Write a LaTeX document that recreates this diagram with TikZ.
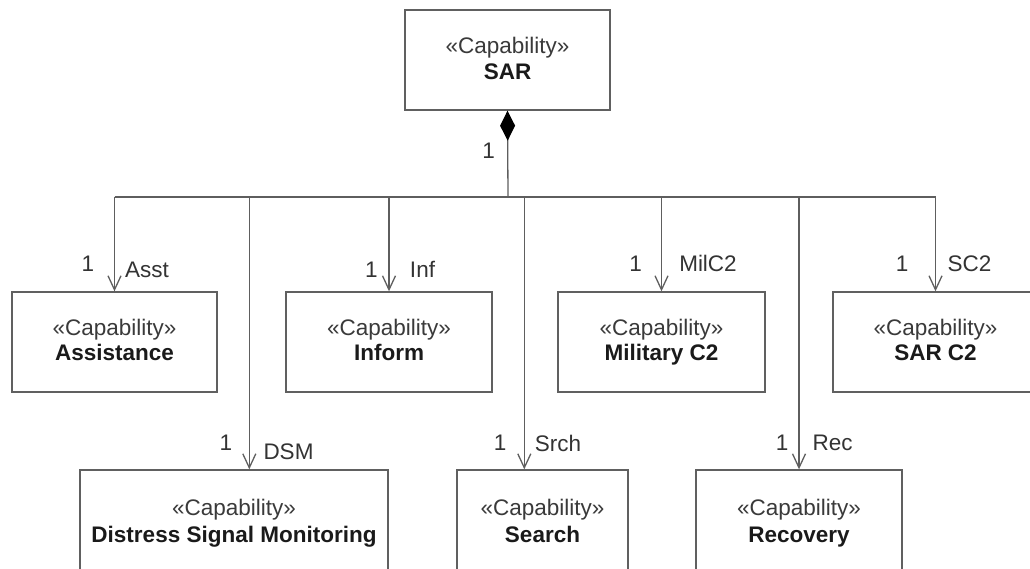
\documentclass[tikz,border=0pt]{standalone}
\usepackage{fontspec}
\setmainfont{Liberation Sans}
\usetikzlibrary{arrows.meta}
\definecolor{linegray}{HTML}{5E5E5E}
\definecolor{boxgray}{HTML}{606060}
\definecolor{stereo}{HTML}{3A3A3A}
\definecolor{namec}{HTML}{1A1A1A}
\definecolor{labc}{HTML}{333333}
\begin{document}
\begin{tikzpicture}[x=1pt,y=-1pt,
  capbox/.style={draw=boxgray, line width=1.4pt, rectangle, inner sep=0pt, minimum height=100pt},
  stxt/.style={anchor=base, inner sep=0pt, text=stereo, font=\fontsize{22.5}{26}\selectfont},
  ntxt/.style={anchor=base, inner sep=0pt, text=namec, font=\fontsize{22.5}{26}\selectfont\bfseries},
  lab/.style={anchor=base, inner sep=0pt, text=labc, font=\fontsize{22.5}{26}\selectfont},
  conn/.style={draw=linegray, line width=1.3pt},
  nav/.style={conn, -{Straight Barb[length=14pt,width=13pt]}}
]
\clip (0,0) rectangle (1030,569);
\fill[white] (0,0) rectangle (1030,569);

% boxes
\node[capbox, minimum width=205pt] (sar)  at (507.5,60) {};
\node[capbox, minimum width=205pt] (asst) at (114.5,342) {};
\node[capbox, minimum width=206pt] (inf)  at (389,342) {};
\node[capbox, minimum width=207pt] (mil)  at (661.5,342) {};
\node[capbox, minimum width=205pt] (sc2)  at (935.5,342) {};
\node[capbox, minimum width=308pt] (dsm)  at (234,520) {};
\node[capbox, minimum width=171pt] (srch) at (542.5,520) {};
\node[capbox, minimum width=206pt] (rec)  at (799,520) {};

% box texts
\node[stxt] (sar-s)  at (507.5,54) {«Capability»};
\node[ntxt] (sar-n)  at (507.5,80) {SAR};
\node[stxt] (asst-s) at (114.5,335) {«Capability»};
\node[ntxt] (asst-n) at (114.5,360) {Assistance};
\node[stxt] (inf-s)  at (389,335) {«Capability»};
\node[ntxt] (inf-n)  at (389,360) {Inform};
\node[stxt] (mil-s)  at (661.5,335) {«Capability»};
\node[ntxt] (mil-n)  at (661.5,360) {Military C2};
\node[stxt] (sc2-s)  at (935.5,335) {«Capability»};
\node[ntxt] (sc2-n)  at (935.5,360) {SAR C2};
\node[stxt] (dsm-s)  at (234,515) {«Capability»};
\node[ntxt] (dsm-n)  at (234,542) {Distress Signal Monitoring};
\node[stxt] (srch-s) at (542.5,515) {«Capability»};
\node[ntxt] (srch-n) at (542.5,542) {Search};
\node[stxt] (rec-s)  at (799,515) {«Capability»};
\node[ntxt] (rec-n)  at (799,542) {Recovery};

% connector geometry
\coordinate (hub) at (508,197);
\path (dsm.north west) ++(170,0) coordinate (dsm-in);
\path (srch.north west) ++(68,0) coordinate (srch-in);

% composition
\draw[conn, {Diamond[length=30pt,width=15pt,color=black]}-] (sar.south) -- (hub);
% bus
\draw[conn] (hub -| asst.north) -- (hub -| sc2.north);
% branches
\draw[nav] (hub -| asst.north) -- (asst.north);
\draw[nav] (hub -| dsm-in) -- (dsm-in);
\draw[nav] (hub -| inf.north) -- (inf.north);
\draw[nav] (hub -| srch-in) -- (srch-in);
\draw[nav] (hub -| mil.north) -- (mil.north);
\draw[nav] (hub -| rec.north) -- (rec.north);
\draw[nav] (hub -| sc2.north) -- (sc2.north);

% multiplicities and roles
\node[lab] (m-sar)  at (488.5,159) {1};
\node[lab] (m-asst) at (88,272) {1};
\node[lab] (r-asst) at (147,277) {Asst};
\node[lab] (m-inf)  at (371.5,277) {1};
\node[lab] (r-inf)  at (422.5,277) {Inf};
\node[lab] (m-mil)  at (635.5,272) {1};
\node[lab] (r-mil)  at (708,272) {MilC2};
\node[lab] (m-sc2)  at (902,272) {1};
\node[lab] (r-sc2)  at (969.5,272) {SC2};
\node[lab] (m-dsm)  at (226,450) {1};
\node[lab] (r-dsm)  at (288.5,459) {DSM};
\node[lab] (m-srch) at (500,450) {1};
\node[lab] (r-srch) at (558,451) {Srch};
\node[lab] (m-rec)  at (782,450) {1};
\node[lab] (r-rec)  at (832.5,450) {Rec};
\end{tikzpicture}
\end{document}
